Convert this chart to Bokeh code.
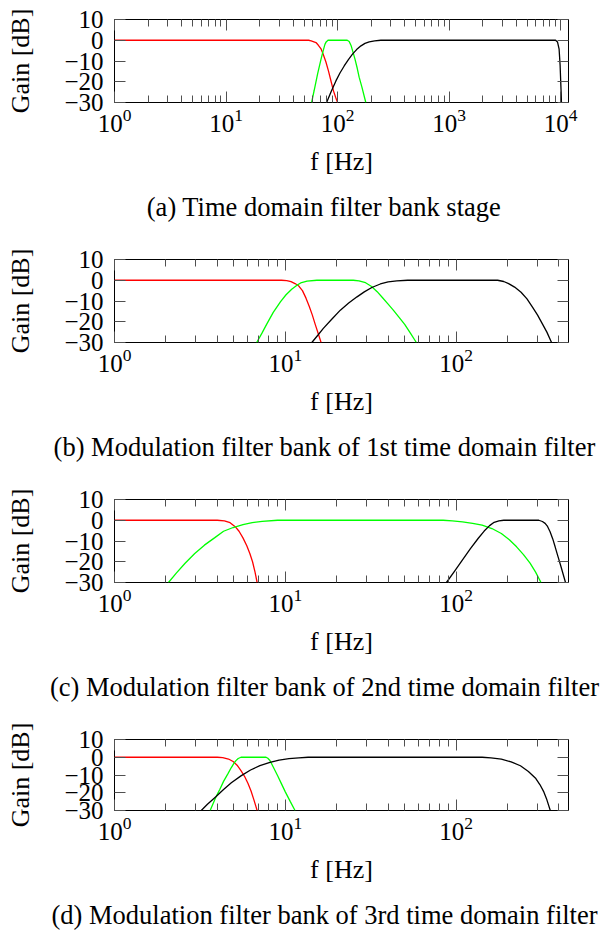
from bokeh.plotting import figure
from bokeh.models import FixedTicker, LogAxis, LinearAxis, Title, Range1d
from bokeh.layouts import column
from bokeh.embed import file_html
from bokeh.resources import INLINE

# ---------------- data ----------------
# (a) Time domain filter bank stage
a_red_f = [1, 20, 45, 55, 58, 64, 67, 70.8, 74, 78.6, 83, 87, 92, 96, 100]
a_red_db = [0, 0, 0, 0, -0.3, -1.1, -2.3, -4.0, -6.5, -10.5, -15, -19.4, -24.5, -27.5, -30]
a_green_f = [58.5, 61.7, 66.2, 70.8, 74.3, 77, 79, 82, 122, 127, 132, 137, 143, 150, 156, 165, 179]
a_green_db = [-30, -24.1, -16.2, -9.5, -5, -2, -0.8, 0, 0, -0.6, -2.5, -5.5, -9, -13.5, -17.8, -22.5, -30]
a_black_f = [79.7, 88, 96.6, 105, 114.6, 125, 136, 148, 162, 176, 192, 215, 244,
             9000, 9360, 9680, 9880, 10090, 10160]
a_black_db = [-30, -24.5, -19.6, -15.8, -12.4, -9.3, -6.7, -4.5, -2.7, -1.5, -0.8, -0.3, 0,
              0, -0.8, -4.3, -12, -25, -30]

# (b) Modulation filter bank of 1st time domain filter
b_red_f = [1, 9.5, 10.2, 10.8, 11.4, 12.0, 12.6, 13.2, 13.8, 14.4, 15.0, 15.6, 16.2]
b_red_db = [0, 0, -0.2, -0.7, -1.6, -2.8, -5, -8.5, -12.5, -16.8, -21.5, -25.8, -30]
b_green_f = [6.8, 7.3, 7.8, 8.5, 9.36, 10.1, 10.9, 11.6, 12.3, 13.4, 15.3, 25, 27, 29.5, 32,
             34.5, 37, 40, 43, 46.5, 50, 54, 58.5]
b_green_db = [-30, -25.5, -21, -15.5, -10.4, -7, -4.3, -2.6, -1.3, -0.4, 0, 0, -0.3, -1.2, -3,
              -5.5, -8.3, -11.5, -14.5, -18, -21.3, -25.5, -30]
b_black_f = [14.3, 15.5, 16.7, 18.7, 21, 23.5, 26.3, 29, 32.1, 36, 40, 45, 52, 175, 190, 203,
             220, 240, 260, 280, 300, 320, 340, 362]
b_black_db = [-30, -26.5, -23.2, -18.8, -14.4, -11, -8, -5.6, -3.5, -1.8, -0.8, -0.3, 0, 0, -0.6,
              -1.6, -3.3, -5.8, -9, -13, -16.8, -21, -25, -30]

# (c) Modulation filter bank of 2nd time domain filter
c_red_f = [1, 4.0, 4.4, 4.75, 5.09, 5.36, 5.65, 5.95, 6.2, 6.43, 6.65, 6.84]
c_red_db = [0, 0, -0.3, -1.2, -3.1, -5.3, -8.5, -12.3, -16, -20, -25, -30]
c_green_f = [2.07, 2.3, 2.59, 2.95, 3.36, 3.85, 4.35, 4.95, 5.65, 6.4, 7.32, 9, 84, 95, 109, 125,
             142, 162, 184, 205, 226, 248, 271, 292, 314]
c_green_db = [-30, -25.5, -20.7, -16, -12, -8.5, -5.3, -3.5, -2.1, -1.1, -0.5, 0, 0, -0.3, -0.8,
              -1.5, -2.4, -4, -6.4, -9.4, -12.8, -16.6, -20.7, -25, -30]
c_black_f = [87.8, 98, 109, 121, 134.5, 146, 157, 167, 178, 190, 305, 320, 332, 343, 355, 368,
             380, 395, 411, 425, 437]
c_black_db = [-30, -24.5, -19.1, -13.8, -8.8, -5.2, -2.6, -1.0, -0.3, 0, 0, -0.6, -1.5, -3.0,
              -5.5, -9, -12.8, -17.5, -22.3, -26.5, -30]

# (d) Modulation filter bank of 3rd time domain filter
d_red_f = [1, 4.0, 4.3, 4.65, 4.95, 5.22, 5.5, 5.79, 6.05, 6.3, 6.55, 6.84]
d_red_db = [0, 0, -0.2, -1.0, -2.4, -4.5, -7.5, -11, -14.8, -19, -24, -30]
d_green_f = [3.63, 3.78, 3.93, 4.14, 4.35, 4.6, 4.83, 5.0, 5.14, 5.3, 5.5, 7.71, 7.9, 8.13, 8.5,
             9.02, 9.5, 10, 10.7, 11.4]
d_green_db = [-30, -26, -22.3, -18, -13.6, -9.5, -5.8, -3.5, -1.9, -0.7, 0, 0, -0.6, -1.8, -5.5,
              -10.4, -15, -19.5, -25, -30]
d_black_f = [3.22, 3.5, 3.92, 4.35, 4.83, 5.5, 6.26, 7.1, 8.13, 9.2, 10.5, 12, 13.6, 142, 160,
             184, 210, 238, 265, 293, 310, 325, 340, 356]
d_black_db = [-30, -26.5, -22.3, -18.2, -14.4, -10.5, -7.2, -4.7, -2.9, -1.6, -0.8, -0.3, 0, 0,
              -0.4, -1.1, -2.6, -4.8, -8, -12, -15.5, -19.2, -24, -30]

captions = [
    "(a) Time domain filter bank stage",
    "(b) Modulation filter bank of 1st time domain filter",
    "(c) Modulation filter bank of 2nd time domain filter",
    "(d) Modulation filter bank of 3rd time domain filter",
]
x_max = [11750, 455, 455, 455]
y_ticks = [-30, -20, -10, 0, 10]
y_tick_labels = {"-30": "\u221230", "-20": "\u221220", "-10": "\u221210", "0": "0", "10": "10"}
x_major_a = [1, 10, 100, 1000, 10000]
x_major_b = [1, 10, 100]

# ---------------- styling ----------------
FONT = "Liberation Serif"
W = 601
FRAME_LEFT = 114
FRAME_RIGHT = 568
FRAME_TOP = 19
FRAME_H = 83
cap_offsets = [32.3, -60.9, -64.5, -63.0]
heights = [240, 240, 240, 220]


def minor_for(major, xmax):
    out = []
    for m in major:
        for k in range(2, 10):
            v = m * k
            if v <= xmax:
                out.append(v)
    return out


def style_ticks(ax):
    ax.major_tick_in = 11
    ax.major_tick_out = 0
    ax.minor_tick_in = 7
    ax.minor_tick_out = 0
    ax.major_tick_line_color = "#505050"
    ax.minor_tick_line_color = "#505050"
    ax.major_tick_line_width = 1
    ax.minor_tick_line_width = 1
    ax.axis_line_color = None


def panel(i, series):
    xmax = x_max[i]
    h = heights[i]
    major = x_major_a if i == 0 else x_major_b
    minor = minor_for(major, xmax)
    p = figure(width=W, height=h, x_axis_type="log",
               x_range=Range1d(1, xmax), y_range=Range1d(-30, 10),
               output_backend="svg", toolbar_location=None,
               min_border_left=FRAME_LEFT, min_border_right=W - FRAME_RIGHT,
               min_border_top=FRAME_TOP, min_border_bottom=h - FRAME_TOP - FRAME_H)
    p.grid.visible = False
    p.outline_line_color = "black"
    p.outline_line_width = 1
    p.background_fill_color = "white"
    p.border_fill_color = "white"

    xa = p.below[0]
    xa.ticker = FixedTicker(ticks=major, minor_ticks=minor)
    style_ticks(xa)
    xa.major_label_text_font = FONT
    xa.major_label_text_font_size = "25px"
    xa.major_label_text_color = "black"
    xa.major_label_standoff = 6
    xa.axis_label = "f [Hz]"
    xa.axis_label_text_font = FONT
    xa.axis_label_text_font_size = "26px"
    xa.axis_label_text_font_style = "normal"
    xa.axis_label_text_color = "black"
    xa.axis_label_standoff = 12

    ya = p.left[0]
    ya.ticker = FixedTicker(ticks=y_ticks, minor_ticks=[])
    style_ticks(ya)
    ya.minor_tick_line_color = None
    ya.major_label_overrides = y_tick_labels
    ya.major_label_text_font = FONT
    ya.major_label_text_font_size = "25px"
    ya.major_label_text_color = "black"
    ya.major_label_standoff = 11
    ya.axis_label = "Gain [dB]"
    ya.axis_label_text_font = FONT
    ya.axis_label_text_font_size = "26px"
    ya.axis_label_text_font_style = "normal"
    ya.axis_label_text_color = "black"
    ya.axis_label_standoff = 26

    top = LogAxis(ticker=FixedTicker(ticks=major, minor_ticks=minor),
                  major_label_text_font_size="1px", major_label_text_color=None,
                  major_label_standoff=0)
    style_ticks(top)
    p.add_layout(top, "above")
    right = LinearAxis(ticker=FixedTicker(ticks=y_ticks, minor_ticks=[]),
                       major_label_text_font_size="1px", major_label_text_color=None,
                       major_label_standoff=0)
    style_ticks(right)
    right.minor_tick_line_color = None
    p.add_layout(right, "right")

    for (fx, gy, col) in series:
        p.line(fx, gy, line_color=col, line_width=1.3)

    p.add_layout(Title(text=captions[i], align="left", offset=cap_offsets[i],
                       text_font=FONT, text_font_size="26.5px", text_font_style="normal",
                       text_color="black", standoff=22), "below")
    return p


p1 = panel(0, [(a_red_f, a_red_db, "#ff0000"), (a_green_f, a_green_db, "#00ff00"),
               (a_black_f, a_black_db, "black")])
p2 = panel(1, [(b_red_f, b_red_db, "#ff0000"), (b_green_f, b_green_db, "#00ff00"),
               (b_black_f, b_black_db, "black")])
p3 = panel(2, [(c_red_f, c_red_db, "#ff0000"), (c_green_f, c_green_db, "#00ff00"),
               (c_black_f, c_black_db, "black")])
p4 = panel(3, [(d_red_f, d_red_db, "#ff0000"), (d_green_f, d_green_db, "#00ff00"),
               (d_black_f, d_black_db, "black")])

layout = column(p1, p2, p3, p4, spacing=0)
open("out.html", "w").write(file_html(layout, INLINE))
